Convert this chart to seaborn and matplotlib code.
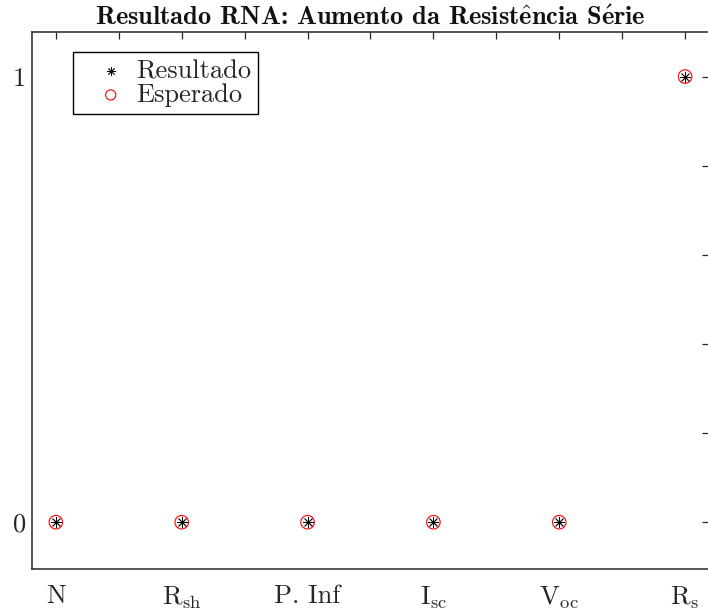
import matplotlib
matplotlib.use("Agg")
import matplotlib.pyplot as plt
import seaborn as sns
import numpy as np

categories = ["N", r"R$_{\mathrm{sh}}$", "P. Inf", r"I$_{\mathrm{sc}}$", r"V$_{\mathrm{oc}}$", r"R$_{\mathrm{s}}$"]
positions = [1, 2, 3, 4, 5, 6]
resultado = [0, 0, 0, 0, 0, 1]
esperado = [0, 0, 0, 0, 0, 1]

sns.set_theme(style="white")
plt.rcParams["font.family"] = ["cmr10", "DejaVu Serif"]
plt.rcParams["mathtext.fontset"] = "cm"
plt.rcParams["axes.formatter.use_mathtext"] = True

fig = plt.figure(figsize=(7.08, 6.12), dpi=100)
ax = fig.add_axes([32 / 708, 1 - 569 / 612, 677 / 708, 537 / 612])

sns.scatterplot(x=positions, y=resultado, ax=ax, marker=(8, 2, 0), s=55,
                color="black", edgecolor="black", linewidth=0.6, label="Resultado", zorder=3)
sns.scatterplot(x=positions, y=esperado, ax=ax, marker="o", s=95,
                facecolors="none", edgecolor="red", linewidth=0.8, label="Esperado", zorder=2)

ax.set_xlim(0.81, 6.19)
ax.set_ylim(-0.105, 1.1)

xt = np.arange(1, 6.01, 0.5)
ax.set_xticks(xt)
ax.set_xticklabels([categories[int(v) - 1] if float(v).is_integer() else "" for v in xt])
yt = [0, 0.2, 0.4, 0.6, 0.8, 1.0]
ax.set_yticks(yt)
ax.set_yticklabels(["0", "", "", "", "", "1"])

ax.tick_params(direction="in", length=5, width=0.9, colors="#262626", labelcolor="#262626",
               top=True, right=True, labelsize=19)
ax.tick_params(axis="x", pad=11)
ax.tick_params(axis="y", pad=4)
for sp in ax.spines.values():
    sp.set_color("#262626")
    sp.set_linewidth(1.1)

title = r"Resultado RNA: Aumento da Resist$\mathbf{\hat{e}}$ncia S$\mathbf{\acute{e}}$rie"
ax.set_title(title, fontsize=19, pad=5, color="#111111", family=["cmb10", "DejaVu Serif"])

leg = ax.legend(loc="upper left", bbox_to_anchor=(41 / 677, 1 - 20 / 537), fontsize=19, frameon=True,
                fancybox=False, edgecolor="black", framealpha=1, borderpad=0.28,
                handletextpad=-0.2, handlelength=2.3, labelspacing=0.0, borderaxespad=0,
                markerscale=0.75)
leg.get_frame().set_linewidth(1.0)

fig.savefig("out.png", dpi=100)
